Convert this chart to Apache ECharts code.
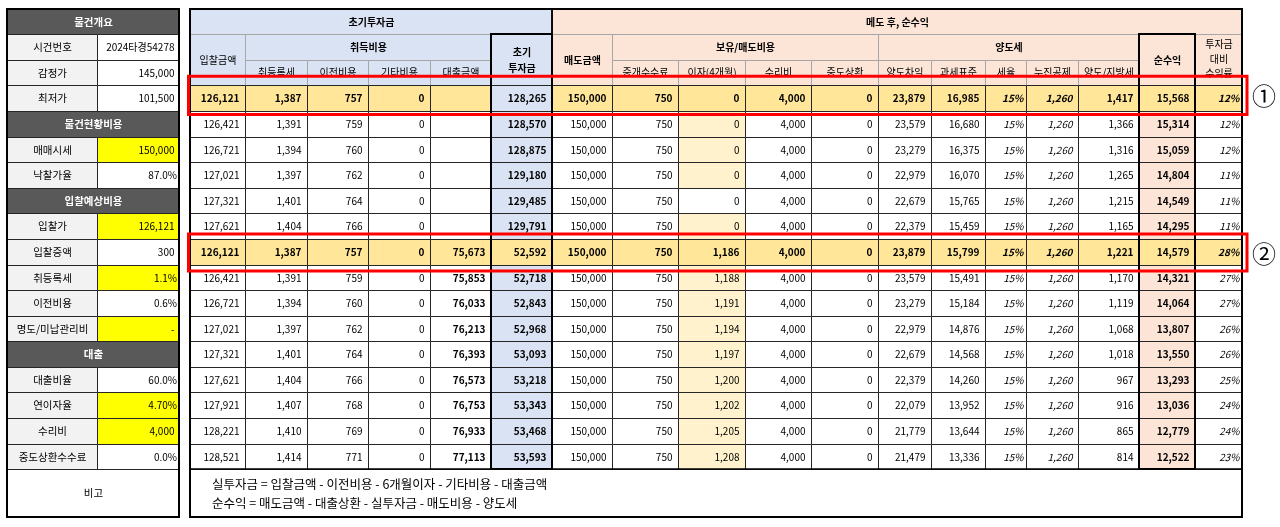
<!DOCTYPE html>
<html>
<head>
<meta charset="utf-8">
<title>입찰가별 수익률</title>
<script src="https://cdn.jsdelivr.net/npm/echarts@6/dist/echarts.min.js"></script>
<style>
  html, body { margin: 0; padding: 0; background: #fff; }
  #main { width: 1280px; height: 527px; }
</style>
</head>
<body>
<div id="main"></div>
<script>
// 왼쪽 표: 물건개요 (값이 null 이면 구분 제목줄)
const infoLabels = ['물건개요', '시건번호', '감정가', '최저가', '물건현황비용', '매매시세', '낙찰가율', '입찰예상비용',
  '입찰가', '입찰증액', '취등록세', '이전비용', '명도/미납관리비', '대출', '대출비율', '연이자율', '수리비', '중도상환수수료'];
const infoValues = [null, '2024타경54278', '145,000', '101,500', null, '150,000', '87.0%', null,
  '126,121', '300', '1.1%', '0.6%', '-', null, '60.0%', '4.70%', '4,000', '0.0%'];
const infoInputRows = [5, 8, 10, 12, 15, 16];

// 오른쪽 표 머리글
const groupTitles = ['초기투자금', '메도 후, 순수익'];
const subGroupTitles = ['취득비용', '보유/매도비용', '양도세'];
const colTitles = ['입찰금액', '취등록세', '이전비용', '기타비용', '대출금액', '초기\n투자금', '매도금액', '중개수수료',
  '이자(4개월)', '수리비', '중도상환', '양도차익', '과세표준', '세율', '누진공제', '양도/지방세', '순수익', '투자금\n대비\n수익률'];

// 오른쪽 표 값 (열별)
const bidAmount = [126121, 126421, 126721, 127021, 127321, 127621, 126121, 126421, 126721, 127021, 127321, 127621, 127921, 128221, 128521];
const acqTax = [1387, 1391, 1394, 1397, 1401, 1404, 1387, 1391, 1394, 1397, 1401, 1404, 1407, 1410, 1414];
const transferCost = [757, 759, 760, 762, 764, 766, 757, 759, 760, 762, 764, 766, 768, 769, 771];
const otherCost = [0, 0, 0, 0, 0, 0, 0, 0, 0, 0, 0, 0, 0, 0, 0];
const loanAmount = [null, null, null, null, null, null, 75673, 75853, 76033, 76213, 76393, 76573, 76753, 76933, 77113];
const initialInvest = [128265, 128570, 128875, 129180, 129485, 129791, 52592, 52718, 52843, 52968, 53093, 53218, 53343, 53468, 53593];
const saleAmount = [150000, 150000, 150000, 150000, 150000, 150000, 150000, 150000, 150000, 150000, 150000, 150000, 150000, 150000, 150000];
const brokerFee = [750, 750, 750, 750, 750, 750, 750, 750, 750, 750, 750, 750, 750, 750, 750];
const interest = [0, 0, 0, 0, 0, 0, 1186, 1188, 1191, 1194, 1197, 1200, 1202, 1205, 1208];
const repairCost = [4000, 4000, 4000, 4000, 4000, 4000, 4000, 4000, 4000, 4000, 4000, 4000, 4000, 4000, 4000];
const prepayFee = [0, 0, 0, 0, 0, 0, 0, 0, 0, 0, 0, 0, 0, 0, 0];
const capitalGain = [23879, 23579, 23279, 22979, 22679, 22379, 23879, 23579, 23279, 22979, 22679, 22379, 22079, 21779, 21479];
const taxBase = [16985, 16680, 16375, 16070, 15765, 15459, 15799, 15491, 15184, 14876, 14568, 14260, 13952, 13644, 13336];
const taxRate = [15, 15, 15, 15, 15, 15, 15, 15, 15, 15, 15, 15, 15, 15, 15];
const deduction = [1260, 1260, 1260, 1260, 1260, 1260, 1260, 1260, 1260, 1260, 1260, 1260, 1260, 1260, 1260];
const transferTax = [1417, 1366, 1316, 1265, 1215, 1165, 1221, 1170, 1119, 1068, 1018, 967, 916, 865, 814];
const netProfit = [15568, 15314, 15059, 14804, 14549, 14295, 14579, 14321, 14064, 13807, 13550, 13293, 13036, 12779, 12522];
const returnRate = [12, 12, 12, 11, 11, 11, 28, 27, 27, 26, 26, 25, 24, 24, 23];

const noteLines = ['실투자금 = 입찰금액 - 이전비용 - 6개월이자 - 기타비용 - 대출금액', '순수익 = 매도금액 - 대출상환 - 실투자금 - 매도비용 - 양도세'];
const highlightRows = [0, 6];
const markers = ['①', '②'];

const columns = [bidAmount, acqTax, transferCost, otherCost, loanAmount, initialInvest, saleAmount, brokerFee,
  interest, repairCost, prepayFee, capitalGain, taxBase, taxRate, deduction, transferTax, netProfit, returnRate];
const pctCols = [13, 17];
const italicCols = [13, 14, 17];

// 레이아웃
const leftEdges = [7, 97, 179];
const colEdges = [190, 245, 307, 368, 430, 491, 552, 612, 678, 745, 811, 878, 931, 985, 1026, 1078, 1139, 1195, 1242];
const ROW_H = 25.6;
const TOP = 8.5;
const ROWS_TOTAL = 19.875;
const BLUE = '#dae3f3', PEACH = '#fce4d6', GOLD = '#ffe699', CREAM = '#fff2cc';
const HEAD_LINE = '#a6a6a6', DATA_LINE = '#262626';
const FONT = '"Noto Sans CJK KR", "Noto Sans", sans-serif';
const interestTint = [1, 2, 3, 5, 7, 8, 9, 10, 11, 12, 13, 14];

const cells = [];
function addCell(x0, x1, r0, r1, text, opt) {
  cells.push(Object.assign({ x0, x1, r0, r1, text, bg: '#fff', line: DATA_LINE, align: 'center', pad: 6, size: 10 }, opt));
}

// 왼쪽 표
infoLabels.forEach((lab, i) => {
  const v = infoValues[i];
  if (v === null) {
    addCell(leftEdges[0], leftEdges[2], i, i + 1, lab, { bg: '#595959', color: '#fff', bold: true, size: 10.5 });
  } else {
    addCell(leftEdges[0], leftEdges[1], i, i + 1, lab, { bg: '#f2f2f2', size: 10.5 });
    addCell(leftEdges[1], leftEdges[2], i, i + 1, v, {
      bg: infoInputRows.includes(i) ? '#ffff00' : '#fff', align: 'right', pad: v.endsWith('%') ? 2.5 : 5
    });
  }
});
addCell(leftEdges[0], leftEdges[2], 18, ROWS_TOTAL, '비고', { size: 10.5 });

// 오른쪽 표 머리글
const headBg = c => (c < 6 ? BLUE : PEACH);
addCell(colEdges[0], colEdges[6], 0, 1, groupTitles[0], { bg: BLUE, bold: true, line: HEAD_LINE });
addCell(colEdges[6], colEdges[18], 0, 1, groupTitles[1], { bg: PEACH, bold: true, line: HEAD_LINE });
[[1, 5], [7, 11], [11, 16]].forEach((s, k) => {
  addCell(colEdges[s[0]], colEdges[s[1]], 1, 2, subGroupTitles[k], { bg: headBg(s[0]), bold: true, line: HEAD_LINE });
});
const tallHeads = { 0: false, 5: true, 6: true, 16: true, 17: false };
colTitles.forEach((t, c) => {
  if (c in tallHeads) {
    addCell(colEdges[c], colEdges[c + 1], 1, 3, t, {
      bg: headBg(c), bold: tallHeads[c], line: HEAD_LINE, lh: c === 17 ? 14.5 : 16.5, dy: c === 17 ? -1 : 0
    });
  } else {
    addCell(colEdges[c], colEdges[c + 1], 2, 3, t, { bg: headBg(c), line: HEAD_LINE, dy: -0.5 });
  }
});

// 오른쪽 표 값
for (let r = 0; r < bidAmount.length; r++) {
  const hl = highlightRows.includes(r);
  columns.forEach((col, c) => {
    const v = col[r];
    const text = v === null ? '' : pctCols.includes(c) ? v + '%' : v.toLocaleString('en-US');
    let bg = '#fff';
    if (c === 5) bg = BLUE;
    if (c === 16) bg = PEACH;
    if (c === 8 && interestTint.includes(r)) bg = CREAM;
    if (hl && !(r === 0 && c === 5)) bg = GOLD;
    addCell(colEdges[c], colEdges[c + 1], 3 + r, 4 + r, text, {
      bg, align: 'right', pad: pctCols.includes(c) ? 3 : 6,
      bold: hl || c === 5 || c === 16 || (c === 4 && r >= 6),
      italic: italicCols.includes(c)
    });
  });
}
addCell(colEdges[0], colEdges[18], 18, ROWS_TOTAL, '', {});

const crisp = v => Math.round(v) + 0.5;

function renderCell(params, api) {
  const c = cells[params.dataIndex];
  const p0 = api.coord([api.value(0), api.value(2)]);
  const p1 = api.coord([api.value(1), api.value(3)]);
  const x = crisp(p0[0]), y = crisp(p0[1]);
  const w = crisp(p1[0]) - x, h = crisp(p1[1]) - y;
  const children = [{
    type: 'rect', shape: { x, y, width: w, height: h },
    style: { fill: c.bg, stroke: c.line, lineWidth: 1 }
  }];
  if (c.text) {
    const tx = c.align === 'right' ? x + w - c.pad : c.align === 'left' ? x + c.pad : x + w / 2;
    children.push({
      type: 'text',
      style: {
        text: c.text, x: tx, y: y + h / 2 + (c.dy || 0),
        align: c.align, verticalAlign: 'middle',
        fontFamily: FONT, fontSize: c.size, lineHeight: c.lh || 14,
        fontWeight: c.bold ? 'bold' : 'normal', fontStyle: c.italic ? 'italic' : 'normal',
        fill: c.color || '#000'
      }
    });
  }
  return { type: 'group', children };
}

// 굵은 테두리 [x0, x1, r0, r1, 두께]
const outlines = [
  [leftEdges[0], leftEdges[2], 0, ROWS_TOTAL, 2],
  [colEdges[0], colEdges[6], 0, 18, 1.5],
  [colEdges[6], colEdges[18], 0, 18, 1.5],
  [colEdges[5], colEdges[6], 1, 18, 2],
  [colEdges[16], colEdges[17], 1, 18, 2],
  [colEdges[0], colEdges[18], 0, ROWS_TOTAL, 2]
];

function renderOutline(params, api) {
  const p0 = api.coord([api.value(0), api.value(2)]);
  const p1 = api.coord([api.value(1), api.value(3)]);
  const x = Math.round(p0[0]), y = Math.round(p0[1]);
  return {
    type: 'rect',
    shape: { x, y, width: Math.round(p1[0]) - x, height: Math.round(p1[1]) - y },
    style: { fill: null, stroke: '#000', lineWidth: api.value(4) }
  };
}

// 빨간 강조 상자 (위/아래 여백 px)
const boxPads = [[-9, 3.5], [-5, 6.5]];
const boxX = [188.5, 1247];

function renderBox(params, api) {
  const i = params.dataIndex;
  const p0 = api.coord([api.value(0), api.value(2)]);
  const p1 = api.coord([api.value(1), api.value(3)]);
  const y0 = p0[1] + boxPads[i][0], y1 = p1[1] + boxPads[i][1];
  return {
    type: 'group',
    children: [{
      type: 'rect', shape: { x: p0[0], y: y0, width: p1[0] - p0[0], height: y1 - y0 },
      style: { fill: null, stroke: '#ff0000', lineWidth: 3 }
    }, {
      type: 'text',
      style: {
        text: markers[i], x: p1[0] + 17, y: (y0 + y1) / 2 + 1,
        align: 'center', verticalAlign: 'middle', fontFamily: FONT, fontSize: 24, fill: '#000'
      }
    }]
  };
}

function renderNotes(params, api) {
  const p = api.coord([api.value(0), api.value(1)]);
  return {
    type: 'text',
    style: {
      text: noteLines[params.dataIndex], x: p[0], y: p[1],
      align: 'left', verticalAlign: 'middle', fontFamily: FONT, fontSize: 12.5, fill: '#000'
    }
  };
}

const chart = echarts.init(document.getElementById('main'));
chart.setOption({
  animation: false,
  backgroundColor: '#fff',
  grid: { left: 0, right: 0, top: TOP, bottom: 527 - TOP - ROWS_TOTAL * ROW_H },
  xAxis: { type: 'value', min: 0, max: 1280, show: false },
  yAxis: { type: 'value', min: 0, max: ROWS_TOTAL, inverse: true, show: false },
  series: [
    {
      type: 'custom', renderItem: renderCell, z: 1,
      encode: { x: [0, 1], y: [2, 3] },
      data: cells.map(c => [c.x0, c.x1, c.r0, c.r1])
    },
    {
      type: 'custom', renderItem: renderOutline, z: 2,
      encode: { x: [0, 1], y: [2, 3] },
      data: outlines
    },
    {
      type: 'custom', renderItem: renderNotes, z: 3,
      encode: { x: 0, y: 1 },
      data: noteLines.map((t, i) => [212, 18.6 + i * 0.74])
    },
    {
      type: 'custom', renderItem: renderBox, z: 4,
      encode: { x: [0, 1], y: [2, 3] },
      data: highlightRows.map(r => [boxX[0], boxX[1], 3 + r, 4 + r])
    }
  ]
});
</script>
</body>
</html>
